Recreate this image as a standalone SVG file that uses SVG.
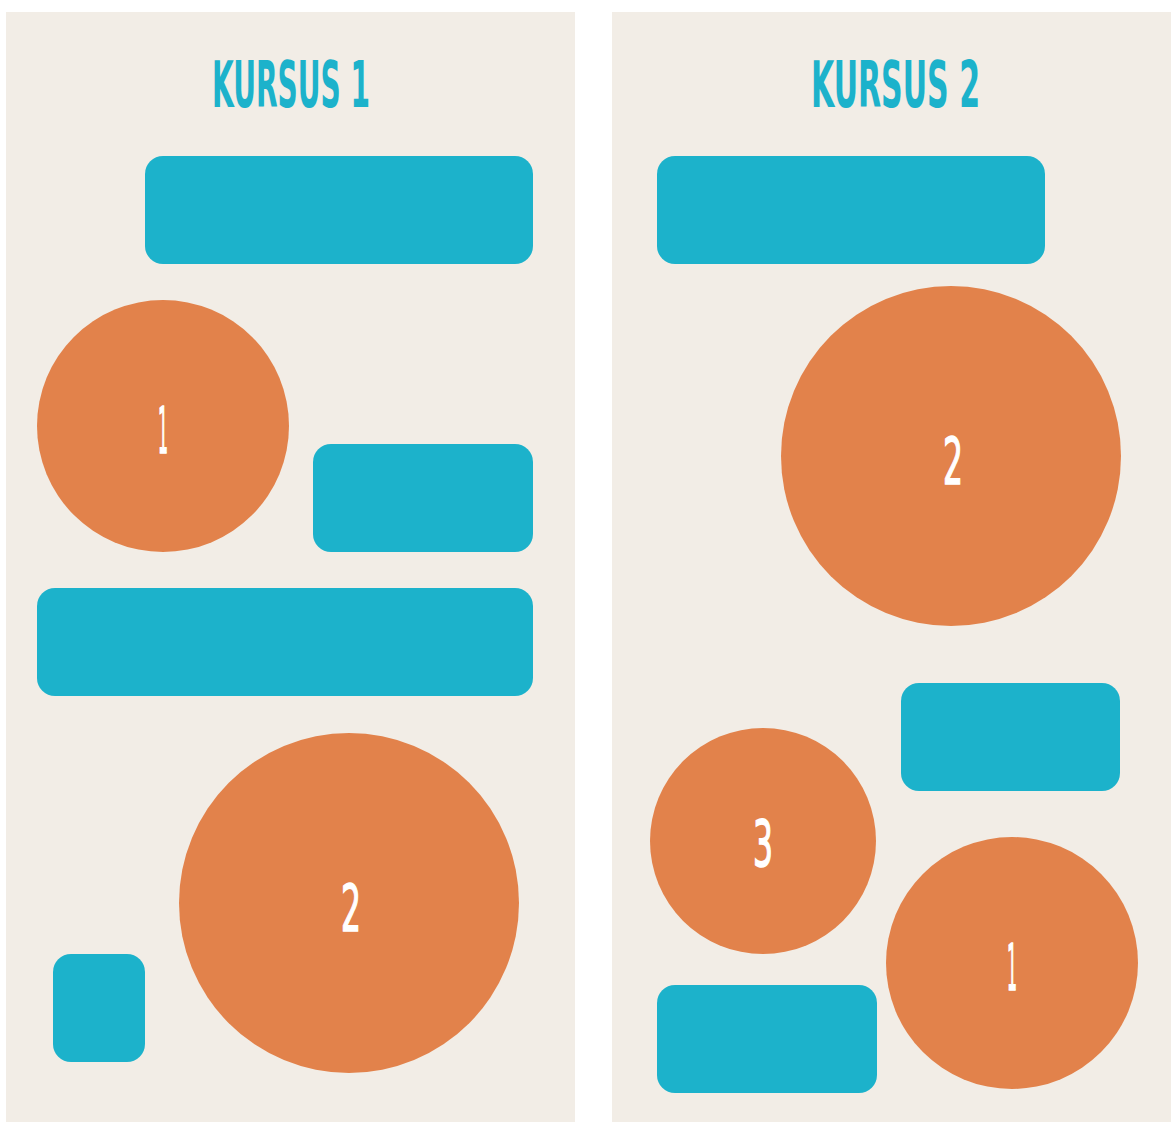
<svg xmlns="http://www.w3.org/2000/svg" width="1171" height="1122" viewBox="0 0 1171 1122">
<style>
.panel{fill:#F2EDE6}
.box{fill:#1CB2CB}
.dot{fill:#E2824B}
.title{font-family:"DejaVu Sans Condensed","Liberation Sans",sans-serif;font-size:64px;font-weight:bold;fill:#1CB2CB}
.num{font-family:"DejaVu Sans Condensed","Liberation Sans",sans-serif;font-size:64px;fill:#FFFFFF;stroke:#FFFFFF;stroke-width:1.5;text-anchor:middle}
</style>
<rect width="1171" height="1122" fill="#FFFFFF"/>
<g id="panel-1">
<rect class="panel" x="6" y="12" width="569" height="1110"/>
<text class="title" x="212" y="107" textLength="158" lengthAdjust="spacingAndGlyphs">KURSUS 1</text>
</g>
<g id="panel-2">
<rect class="panel" x="612" y="12" width="559" height="1110"/>
<text class="title" x="811" y="107" textLength="169" lengthAdjust="spacingAndGlyphs">KURSUS 2</text>
</g>
<g id="k1-box1"><rect class="box" x="145" y="156" width="388" height="108" rx="18"/></g>
<g id="k1-circle1"><circle class="dot" cx="163" cy="426" r="126"/><text class="num" x="163" y="453" textLength="10" lengthAdjust="spacingAndGlyphs">1</text></g>
<g id="k1-box2"><rect class="box" x="313" y="444" width="220" height="108" rx="18"/></g>
<g id="k1-box3"><rect class="box" x="37" y="588" width="496" height="108" rx="18"/></g>
<g id="k1-circle2"><circle class="dot" cx="349" cy="903" r="170"/><text class="num" x="351" y="931" textLength="20" lengthAdjust="spacingAndGlyphs">2</text></g>
<g id="k1-box4"><rect class="box" x="53" y="954" width="92" height="108" rx="18"/></g>
<g id="k2-box1"><rect class="box" x="657" y="156" width="388" height="108" rx="18"/></g>
<g id="k2-circle2"><circle class="dot" cx="951" cy="456" r="170"/><text class="num" x="953" y="484" textLength="20" lengthAdjust="spacingAndGlyphs">2</text></g>
<g id="k2-box2"><rect class="box" x="901" y="683" width="219" height="108" rx="18"/></g>
<g id="k2-circle3"><circle class="dot" cx="763" cy="841" r="113"/><text class="num" x="763" y="866" textLength="20" lengthAdjust="spacingAndGlyphs">3</text></g>
<g id="k2-circle1"><circle class="dot" cx="1012" cy="963" r="126"/><text class="num" x="1012" y="990" textLength="10" lengthAdjust="spacingAndGlyphs">1</text></g>
<g id="k2-box3"><rect class="box" x="657" y="985" width="220" height="108" rx="18"/></g>
</svg>
